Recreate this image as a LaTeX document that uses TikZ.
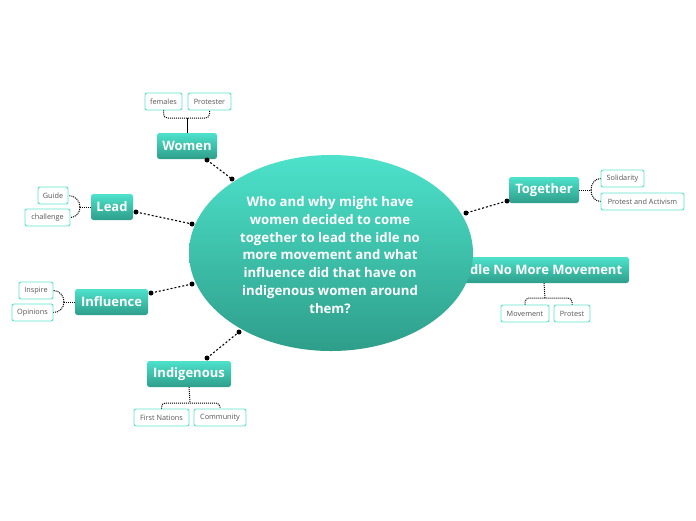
\documentclass[tikz,border=0pt]{standalone}
\usepackage{fontspec}
\setmainfont{Open Sans}
\usetikzlibrary{shapes.geometric}
\definecolor{tealtop}{HTML}{4DE2CB}
\definecolor{tealbot}{HTML}{2E9E8A}
\definecolor{leafedge}{HTML}{5EE3CD}
\definecolor{leaftext}{HTML}{555555}
\tikzset{
  topic/.style={rectangle, rounded corners=2.5pt, top color=tealtop, bottom color=tealbot, draw=none,
    text=white, font=\fontsize{13}{15}\selectfont\bfseries, minimum height=26pt, inner xsep=3pt},
  leaf/.style={rectangle, rounded corners=2pt, fill=white, draw=leafedge, line width=0.9pt,
    text=leaftext, font=\fontsize{7.3}{8}\selectfont, minimum height=17pt, inner xsep=1pt},
  link/.style={line width=1.1pt, dash pattern=on 2pt off 2pt},
  br/.style={line width=1pt, dash pattern=on 1pt off 1pt},
  dotend/.style={circle, fill=black, inner sep=0pt, minimum size=5pt},
}
\begin{document}
\begin{tikzpicture}[x=1pt,y=-1pt]
\fill[white] (0,0) rectangle (696,520);
\useasboundingbox (0,0) rectangle (696,520);

% Idle box behind ellipse
\node[topic, minimum width=170pt] (idle) at (544,270) {Idle No More Movement};

% main ellipse
\node[ellipse, top color=tealtop, bottom color=tealbot, minimum width=284pt, minimum height=196pt,
  inner sep=0pt] (main) at (331,253) {};
\node[text=white, font=\fontsize{13.2}{17.8}\selectfont\bfseries, align=center] (maintext) at (330,255)
 {Who and why might have\\women decided to come\\together to lead the idle no\\more movement and what\\influence did that have on\\indigenous women around\\them?};

% topics
\node[topic, minimum width=60pt] (women) at (187,146) {Women};
\node[topic, minimum width=42pt] (lead) at (112,207) {Lead};
\node[topic, minimum width=73pt] (infl) at (111.5,302) {Influence};
\node[topic, minimum width=84pt] (indig) at (189,374) {Indigenous};
\node[topic, minimum width=70pt] (tog) at (544,190) {Together};

% leaves
\node[leaf, minimum width=37pt] (fem) at (163.5,101.5) {females};
\node[leaf, minimum width=43pt] (prot1) at (209.5,101.5) {Protester};
\node[leaf, minimum width=30pt] (guide) at (53,195.5) {Guide};
\node[leaf, minimum width=45pt] (chal) at (47.5,217.5) {challenge};
\node[leaf, minimum width=34pt] (insp) at (36,290.5) {Inspire};
\node[leaf, minimum width=41pt] (opin) at (32.5,312.5) {Opinions};
\node[leaf, minimum width=55pt] (fn) at (161.5,417.5) {First Nations};
\node[leaf, minimum width=52pt] (comm) at (220,417.5) {Community};
\node[leaf, minimum width=43pt] (sol) at (622.5,178.5) {Solidarity};
\node[leaf, minimum width=83pt] (pa) at (642.5,201.5) {Protest and Activism};
\node[leaf, minimum width=48pt] (mov) at (525,313.5) {Movement};
\node[leaf, minimum width=36pt] (prot2) at (572,313.5) {Protest};

% main links
\coordinate (w1) at (207,160); \coordinate (w2) at (232,179);
\coordinate (l1) at (136,212); \coordinate (l2) at (192,224);
\coordinate (i1) at (151,293); \coordinate (i2) at (192,284);
\coordinate (d1) at (207,358); \coordinate (d2) at (239,332);
\coordinate (t1) at (507,201); \coordinate (t2) at (466,213);
\foreach \a/\b in {w1/w2,l1/l2,i1/i2,d1/d2,t1/t2}{
  \draw[link] (\a) -- (\b);
  \node[dotend] at (\a) {};
  \node[dotend] at (\b) {};
}

% brackets
% Women (above)
\coordinate (wj) at (187,118);
\draw[line width=1pt] (women.north) -- (wj);
\draw[br, rounded corners=4pt] (fem.south) |- (wj) -| (prot1.south);
% Lead (left)
\coordinate (lj) at (80,207);
\draw[br] (lead.west) -- (lj);
\draw[br] (lj) to[out=90,in=0] (guide.east);
\draw[br] (lj) to[out=-90,in=0] (chal.east);
% Influence
\coordinate (ij) at (64,302);
\draw[br] (infl.west) -- (ij);
\draw[br] (ij) to[out=90,in=0] (insp.east);
\draw[br] (ij) to[out=-90,in=0] (opin.east);
% Indigenous (below)
\coordinate (dj) at (190,403);
\draw[br] (indig.south) -- (dj);
\draw[br, rounded corners=4pt] (fn.north) |- (dj) -| (comm.north);
% Together (right)
\coordinate (tj) at (591,190);
\draw[br] (tog.east) -- (tj);
\draw[br] (tj) to[out=90,in=180] (sol.west);
\draw[br] (tj) to[out=-90,in=180] (pa.west);
% Idle (below)
\coordinate (mj) at (545,298);
\draw[br] (idle.south) -- (mj);
\draw[br, rounded corners=4pt] (mov.north) |- (mj) -| (prot2.north);
\end{tikzpicture}
\end{document}
